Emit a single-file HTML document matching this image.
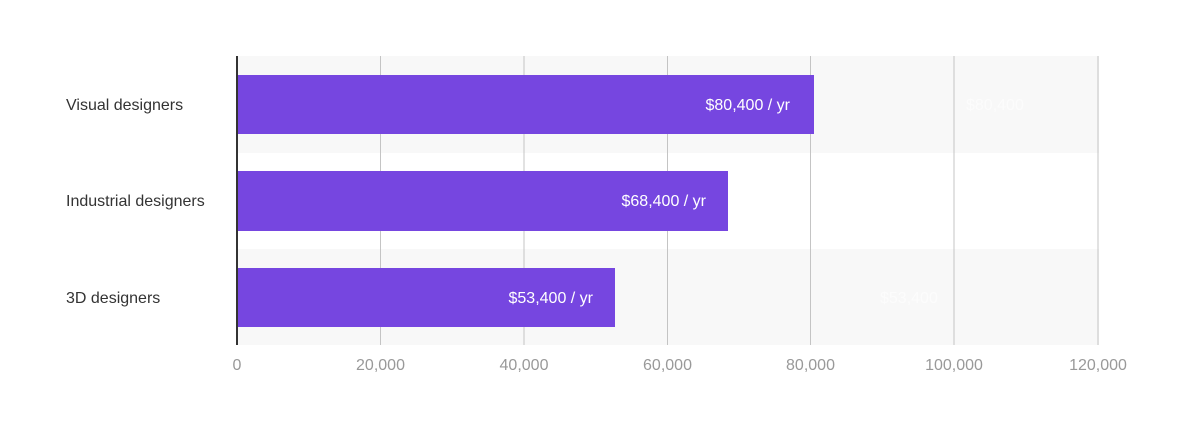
<!DOCTYPE html>
<html><head><style>
body{margin:0;background:#fff;}
svg{display:block;font-family:"Liberation Sans",sans-serif;}
</style></head><body>
<svg width="1200" height="430" xmlns="http://www.w3.org/2000/svg">
<rect x="237" y="56" width="862" height="97" fill="#f8f8f8"/>
<rect x="237" y="249" width="862" height="96" fill="#f8f8f8"/>
<g stroke="#c4c4c4" stroke-width="1">
<line x1="380.5" y1="56" x2="380.5" y2="345"/>
<line x1="524" y1="56" x2="524" y2="345"/>
<line x1="667.5" y1="56" x2="667.5" y2="345"/>
<line x1="810.5" y1="56" x2="810.5" y2="345"/>
<line x1="954" y1="56" x2="954" y2="345"/>
<line x1="1098" y1="56" x2="1098" y2="345"/>
</g>
<rect x="237" y="75" width="577" height="59" fill="#7646e0"/>
<rect x="237" y="171" width="491" height="60" fill="#7646e0"/>
<rect x="237" y="268" width="378" height="59" fill="#7646e0"/>
<line x1="237" y1="56" x2="237" y2="345" stroke="#333" stroke-width="2"/>
<g font-size="16" fill="#fff" text-anchor="end">
<text x="790" y="110">$80,400 / yr</text>
<text x="706" y="206">$68,400 / yr</text>
<text x="593" y="303">$53,400 / yr</text>
</g>
<g font-size="16" fill="#fcfcfc">
<text x="966" y="110">$80,400</text>
<text x="880" y="303">$53,400</text>
</g>
<g font-size="16" fill="#333">
<text x="66" y="110">Visual designers</text>
<text x="66" y="206">Industrial designers</text>
<text x="66" y="303">3D designers</text>
</g>
<g font-size="16" fill="#999" text-anchor="middle">
<text x="237" y="370">0</text>
<text x="380.5" y="370">20,000</text>
<text x="524" y="370">40,000</text>
<text x="667.5" y="370">60,000</text>
<text x="810.5" y="370">80,000</text>
<text x="954" y="370">100,000</text>
<text x="1098" y="370">120,000</text>
</g>
</svg>
</body></html>
